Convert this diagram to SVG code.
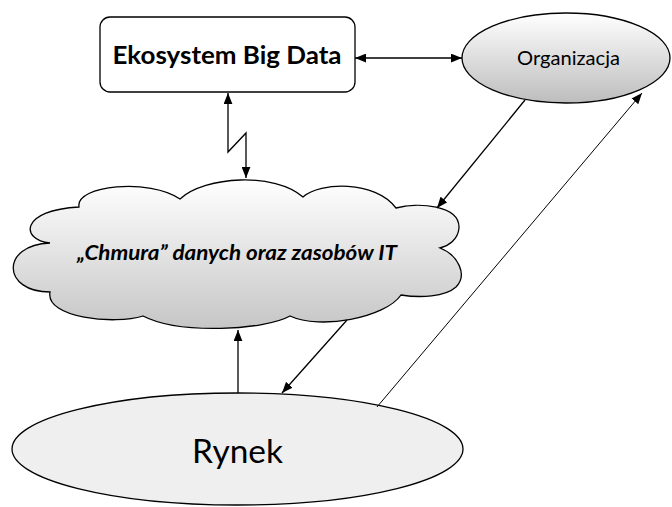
<svg xmlns="http://www.w3.org/2000/svg" width="672" height="507" viewBox="0 0 672 507">
<style>
.lbl{font-family:Lato,"Liberation Sans",sans-serif;fill:#000;text-anchor:middle}
.node{stroke:#000;stroke-width:1.3}
.conn{stroke:#000;fill:none;stroke-width:1.3}
.thin{stroke-width:1}
</style>
<defs>
<linearGradient id="gOrg" x1="0" y1="0" x2="0" y2="1">
<stop offset="0" stop-color="#ffffff"/>
<stop offset="1" stop-color="#bdbdbd"/>
</linearGradient>
<linearGradient id="gCloud" x1="0" y1="0" x2="0" y2="1">
<stop offset="0" stop-color="#ffffff"/>
<stop offset="1" stop-color="#c6c6c6"/>
</linearGradient>
<marker id="ah" viewBox="0 0 10 8" refX="10" refY="4" markerWidth="11" markerHeight="9" markerUnits="userSpaceOnUse" orient="auto-start-reverse">
<path d="M0,0 L10,4 L0,8 z" fill="#000"/>
</marker>
</defs>
<g id="rynek">
<ellipse class="node" cx="237.5" cy="449" rx="225.5" ry="56" fill="#efefef"/>
<text class="lbl" x="237.5" y="463" font-size="32" textLength="91" lengthAdjust="spacingAndGlyphs">Rynek</text>
</g>
<g id="chmura">
<path class="node" fill="url(#gCloud)" d="M180,199 C205,176 275,172 303,197 C320,182 375,180 396,208 C418,202 460,205 459,228 C458,240 448,246 440,248 C458,255 468,275 456,287 C445,297 420,298 401,295 C385,318 320,330 290,316 C265,330 180,335 143,316 C115,325 45,318 50,292 C2,292 0,245 50,243 C20,240 20,210 79,207 C75,185 150,178 180,199 Z"/>
<text class="lbl" x="237" y="260" font-size="20" font-weight="bold" font-style="italic" textLength="320" lengthAdjust="spacingAndGlyphs">„Chmura” danych oraz zasobów IT</text>
</g>
<g id="ekosystem">
<rect class="node" x="100" y="17" width="255" height="75" rx="10" ry="10" fill="#fff"/>
<text class="lbl" x="227" y="64" font-size="24" font-weight="bold" textLength="229" lengthAdjust="spacingAndGlyphs">Ekosystem Big Data</text>
</g>
<g id="organizacja">
<ellipse class="node" cx="566" cy="58" rx="104" ry="45" fill="url(#gOrg)"/>
<text class="lbl" x="568.5" y="65" font-size="19" textLength="103" lengthAdjust="spacingAndGlyphs">Organizacja</text>
</g>
<g id="connectors">
<line class="conn" x1="355" y1="58" x2="462" y2="58" marker-start="url(#ah)" marker-end="url(#ah)"/>
<polyline class="conn" points="228,93 228,152 246,133 246,178" marker-start="url(#ah)" marker-end="url(#ah)"/>
<line class="conn" x1="525" y1="100" x2="437" y2="208" marker-end="url(#ah)"/>
<line class="conn thin" x1="377" y1="407" x2="642" y2="93" marker-end="url(#ah)"/>
<line class="conn" x1="238" y1="393" x2="238" y2="330" marker-end="url(#ah)"/>
<line class="conn" x1="347" y1="320" x2="282" y2="393" marker-end="url(#ah)"/>
</g>
</svg>
